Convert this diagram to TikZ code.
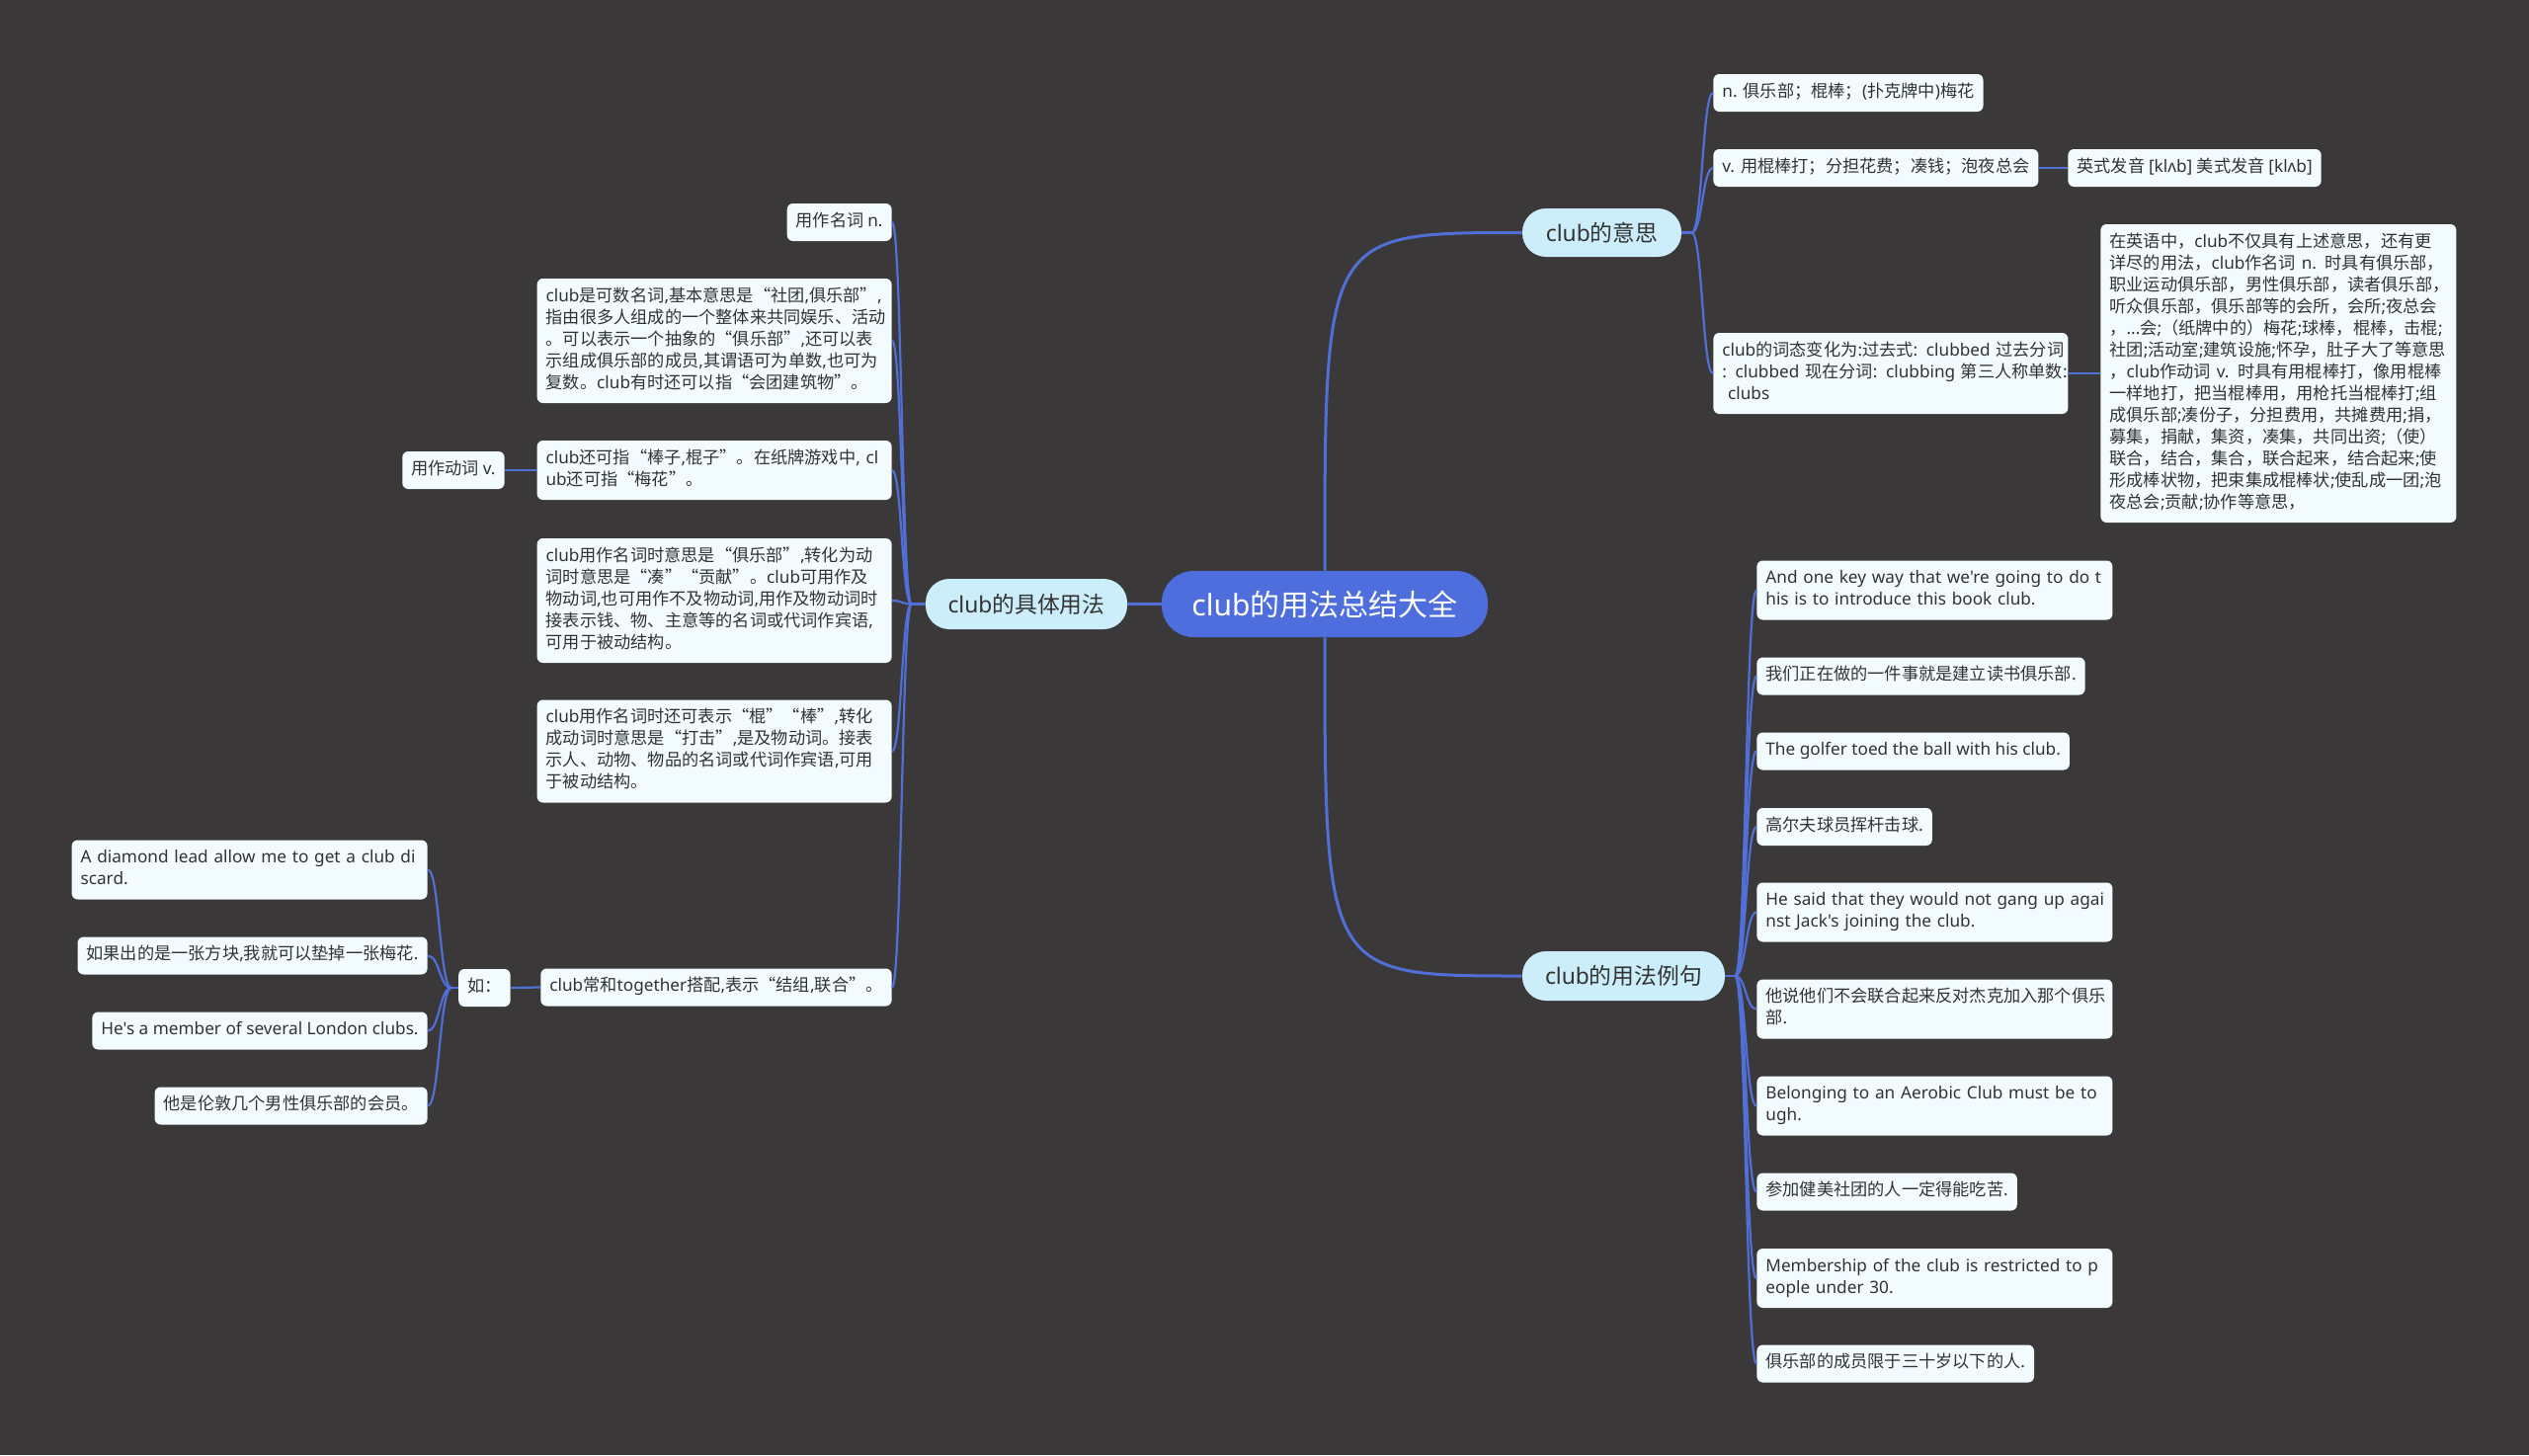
\documentclass[tikz,border=0pt]{standalone}
\usepackage{fontspec}
\setmainfont{Noto Sans}
\newfontfamily\latf{Noto Sans}
\newfontfamily\cjkf{Noto Sans CJK SC}
\usetikzlibrary{calc}
% automatic switch to the CJK font
\newXeTeXintercharclass\cjkcls
\newcount\cjkcnt
\cjkcnt="3000 \loop \XeTeXcharclass\cjkcnt=\cjkcls \advance\cjkcnt 1 \ifnum\cjkcnt<"3040 \repeat
\cjkcnt="4E00 \loop \XeTeXcharclass\cjkcnt=\cjkcls \advance\cjkcnt 1 \ifnum\cjkcnt<"A000 \repeat
\cjkcnt="FF00 \loop \XeTeXcharclass\cjkcnt=\cjkcls \advance\cjkcnt 1 \ifnum\cjkcnt<"FFF0 \repeat
\XeTeXcharclass"201C=\cjkcls
\XeTeXcharclass"201D=\cjkcls
\XeTeXinterchartokenstate=1
\XeTeXinterchartoks 0 \cjkcls = {\cjkf}
\XeTeXinterchartoks 4095 \cjkcls = {\cjkf}
\XeTeXinterchartoks \cjkcls 0 = {\latf}
\XeTeXinterchartoks 4095 0 = {\latf}

\definecolor{bg}{HTML}{3A3839}
\definecolor{linec}{HTML}{5070D8}
\definecolor{mainc}{HTML}{4D6EDC}
\definecolor{lvlc}{HTML}{CCEEFB}
\definecolor{leafc}{HTML}{F2FBFE}
\definecolor{txt}{HTML}{333333}

\tikzset{
  leaf/.style={fill=leafc, rounded corners=3pt, text=txt,
    font=\fontsize{8.6}{11}\selectfont, align=left,
    inner xsep=4.5pt, inner ysep=4pt,
    execute at begin node=\strut, execute at end node=\strut},
  lvl/.style={fill=lvlc, text=txt, font=\fontsize{11.4}{14}\selectfont,
    rounded corners=12pt, inner sep=0pt, align=center},
  root/.style={fill=mainc, text=white, font=\fontsize{15}{18}\selectfont,
    rounded corners=16pt, inner sep=0pt, minimum width=165pt, minimum height=33.5pt},
  link/.style={draw=linec, line width=1.1pt},
  mainlink/.style={draw=linec, line width=1.5pt},
  elbow/.style={to path={.. controls ($(\tikztostart)!0.5!(\tikztostart-|\tikztotarget)$)
      and ($(\tikztotarget)!0.5!(\tikztotarget-|\tikztostart)$) .. (\tikztotarget)}}
}

\begin{document}
\begin{tikzpicture}[x=0.5pt,y=-0.5pt]
\fill[bg] (0,0) rectangle (2560,1473);
\useasboundingbox (0,0) rectangle (2560,1473);

% root and main branches
\node[root] (main) at (1341,611.5) {club的用法总结大全};
\node[lvl, minimum width=102pt, minimum height=25.5pt] (jt) at (1039,611.5) {club的具体用法};
\node[lvl, minimum width=80.5pt, minimum height=24.5pt] (ys) at (1621.5,235.5) {club的意思};
\node[lvl, minimum width=102.5pt, minimum height=25pt] (lj) at (1643.5,988) {club的用法例句};

% meaning branch
\node[leaf, anchor=west] (m1) at (1734,94) {n. 俱乐部；棍棒；(扑克牌中)梅花};
\node[leaf, anchor=west] (m2) at (1734,170) {v. 用棍棒打；分担花费；凑钱；泡夜总会};
\node[leaf, anchor=west] (m2a) at (2093,170) {英式发音 [klʌb] 美式发音 [klʌb]};
\node[leaf, text width=170.5pt, anchor=west] (m3) at (1734,378) {\mbox{club的词态变化为:过去式: clubbed 过去分词}\\\mbox{: clubbed 现在分词: clubbing 第三人称单数:}\\\mbox{\ clubs}};
\node[leaf, text width=171pt, anchor=west] (m4) at (2126,378) {\mbox{在英语中，club不仅具有上述意思，还有更}\\\mbox{详尽的用法，club作名词 n. 时具有俱乐部，}\\\mbox{职业运动俱乐部，男性俱乐部，读者俱乐部，}\\\mbox{听众俱乐部，俱乐部等的会所，会所;夜总会}\\\mbox{，...会;（纸牌中的）梅花;球棒，棍棒，击棍;}\\\mbox{社团;活动室;建筑设施;怀孕，肚子大了等意思}\\\mbox{，club作动词 v. 时具有用棍棒打，像用棍棒}\\\mbox{一样地打，把当棍棒用，用枪托当棍棒打;组}\\\mbox{成俱乐部;凑份子，分担费用，共摊费用;捐，}\\\mbox{募集，捐献，集资，凑集，共同出资;（使）}\\\mbox{联合，结合，集合，联合起来，结合起来;使}\\\mbox{形成棒状物，把束集成棍棒状;使乱成一团;泡}\\\mbox{夜总会;贡献;协作等意思，}};

% usage branch (left)
\node[leaf, anchor=east] (a) at (903,225) {用作名词 n.};
\node[leaf, text width=170.5pt, anchor=east] (b) at (903,345) {\mbox{club是可数名词,基本意思是“社团,俱乐部”,}\\\mbox{指由很多人组成的一个整体来共同娱乐、活动}\\\mbox{。可以表示一个抽象的“俱乐部”,还可以表}\\\mbox{示组成俱乐部的成员,其谓语可为单数,也可为}\\\mbox{复数。club有时还可以指“会团建筑物”。}};
\node[leaf, text width=170.5pt, anchor=east] (c) at (903,476) {\mbox{club还可指“棒子,棍子”。在纸牌游戏中, cl}\\\mbox{ub还可指“梅花”。}};
\node[leaf, text width=170.5pt, anchor=east] (d) at (903,608) {\mbox{club用作名词时意思是“俱乐部”,转化为动}\\\mbox{词时意思是“凑”“贡献”。club可用作及}\\\mbox{物动词,也可用作不及物动词,用作及物动词时}\\\mbox{接表示钱、物、主意等的名词或代词作宾语,}\\\mbox{可用于被动结构。}};
\node[leaf, text width=170.5pt, anchor=east] (e) at (903,760.5) {\mbox{club用作名词时还可表示“棍”“棒”,转化}\\\mbox{成动词时意思是“打击”,是及物动词。接表}\\\mbox{示人、动物、物品的名词或代词作宾语,可用}\\\mbox{于被动结构。}};
\node[leaf, anchor=east] (f) at (903,999.5) {club常和together搭配,表示“结组,联合”。};
\node[leaf, anchor=east] (cv) at (511,476) {用作动词 v.};
\node[leaf, anchor=east] (ru) at (517,1000) {如：};
\node[leaf, text width=171pt, anchor=east] (x1) at (433,880.5) {\mbox{A diamond lead allow me to get a club di}\\\mbox{scard.}};
\node[leaf, anchor=east] (x2) at (433,967.5) {如果出的是一张方块,我就可以垫掉一张梅花.};
\node[leaf, anchor=east] (x3) at (433,1043.5) {He's a member of several London clubs.};
\node[leaf, anchor=east] (x4) at (433,1119.5) {他是伦敦几个男性俱乐部的会员。};

% examples branch
\node[leaf, text width=171pt, anchor=west] (r1) at (1778,597.5) {\mbox{And one key way that we're going to do t}\\\mbox{his is to introduce this book club.}};
\node[leaf, anchor=west] (r2) at (1778,684.5) {我们正在做的一件事就是建立读书俱乐部.};
\node[leaf, anchor=west] (r3) at (1778,760.5) {The golfer toed the ball with his club.};
\node[leaf, anchor=west] (r4) at (1778,837) {高尔夫球员挥杆击球.};
\node[leaf, text width=171pt, anchor=west] (r5) at (1778,923.5) {\mbox{He said that they would not gang up agai}\\\mbox{nst Jack's joining the club.}};
\node[leaf, text width=171pt, anchor=west] (r6) at (1778,1021.5) {\mbox{他说他们不会联合起来反对杰克加入那个俱乐}\\\mbox{部.}};
\node[leaf, text width=171pt, anchor=west] (r7) at (1778,1119.5) {\mbox{Belonging to an Aerobic Club must be to}\\\mbox{ugh.}};
\node[leaf, anchor=west] (r8) at (1778,1206.5) {参加健美社团的人一定得能吃苦.};
\node[leaf, text width=171pt, anchor=west] (r9) at (1778,1294) {\mbox{Membership of the club is restricted to p}\\\mbox{eople under 30.}};
\node[leaf, anchor=west] (r10) at (1778,1380.5) {俱乐部的成员限于三十岁以下的人.};

% connectors: root
\draw[mainlink] (main.west) -- (jt.east);
\draw[mainlink] (main.north) .. controls (main.north |- ys.west) .. (ys.west);
\draw[mainlink] (main.south) .. controls (main.south |- lj.west) .. (lj.west);

% meaning branch
\coordinate (fys) at ($(ys.east)+(10,0)$);
\draw[link] (ys.east) -- (fys);
\foreach \t in {m1,m2,m3} \draw[link] (fys) to[elbow] (\t.west);
\draw[link] (m2.east) -- (m2a.west);
\draw[link] (m3.east) -- (m4.west);

% usage branch
\coordinate (fjt) at ($(jt.west)+(-14,0)$);
\draw[link] (jt.west) -- (fjt);
\foreach \t in {a,b,c,d,e,f} \draw[link] (fjt) to[elbow] (\t.east);
\draw[link] (c.west) -- (cv.east);
\draw[link] (f.west) -- (ru.east);
\coordinate (fru) at ($(ru.west)+(-7,0)$);
\draw[link] (ru.west) -- (fru);
\foreach \t in {x1,x2,x3,x4} \draw[link] (fru) to[elbow] (\t.east);

% examples branch
\coordinate (flj) at ($(lj.east)+(10,0)$);
\draw[link] (lj.east) -- (flj);
\foreach \t in {r1,r2,r3,r4,r5,r6,r7,r8,r9,r10} \draw[link] (flj) to[elbow] (\t.west);
\end{tikzpicture}
\end{document}
